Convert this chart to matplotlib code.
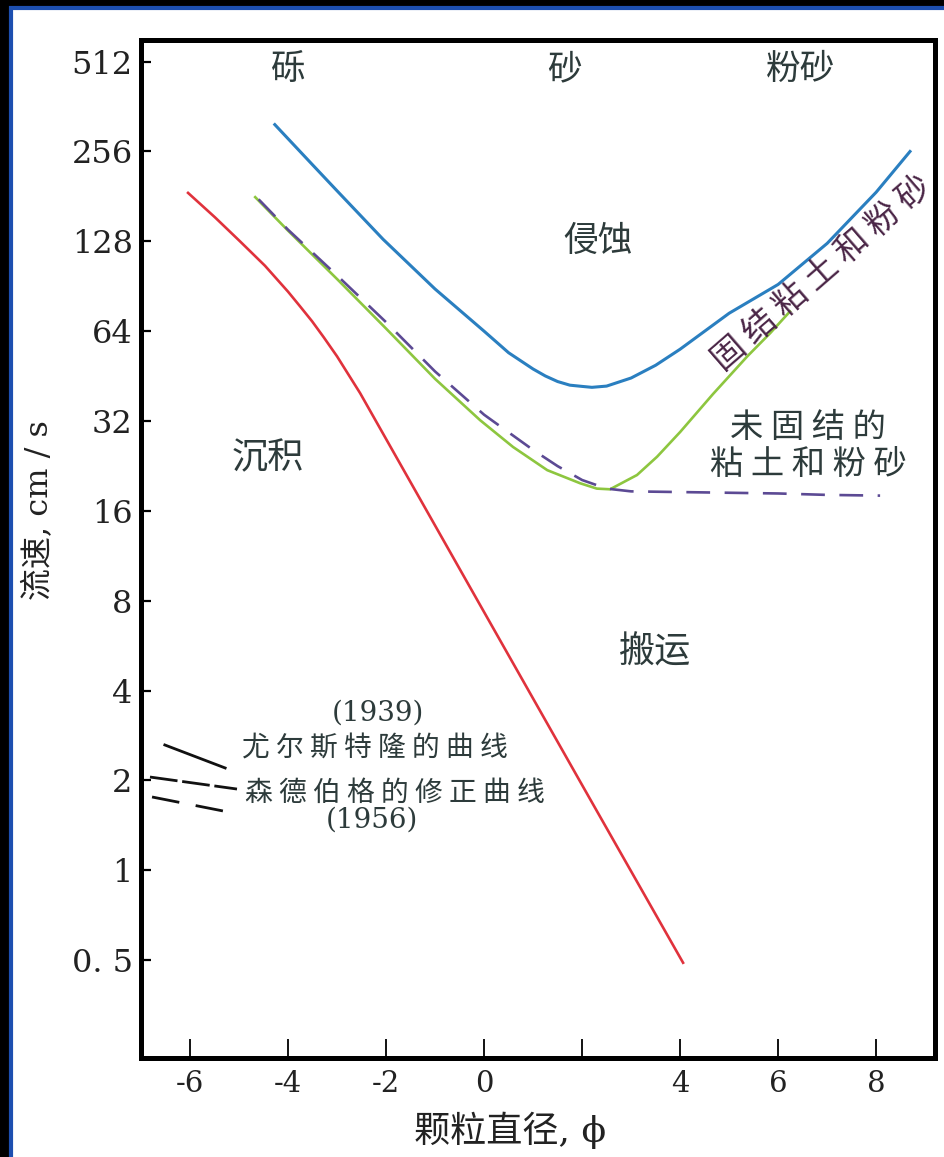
import numpy as np
from matplotlib import pyplot as plt
from matplotlib.patches import Rectangle
from matplotlib.ticker import NullLocator

plt.rcParams['font.family'] = ['Noto Sans CJK SC', 'DejaVu Sans']
SERIF = ['DejaVu Serif', 'Noto Sans CJK SC']

# grain size (phi) and current velocity (cm/s)
# erosion threshold, consolidated clay and silt (blue)
phi_erosion = [-4.27, -3.5, -3.0, -2.06, -1.0, 0.0, 0.5, 1.0, 1.25, 1.5, 1.75, 2.0,
               2.2, 2.5, 3.0, 3.5, 4.0, 5.0, 6.0, 7.0, 8.0, 8.69]
v_erosion = [315, 231, 189, 130, 88.6, 64, 54.2, 47.8, 45.3, 43.4, 42.2, 41.8,
             41.5, 41.9, 44.6, 49.2, 55.7, 73.5, 91.8, 126, 187, 256]

# deposition threshold (red)
phi_deposit = [-6.04, -5.49, -4.98, -4.47, -4.0, -3.76, -3.51, -3.27, -3.0, -2.76,
               -2.53, 0.0, 2.0, 4.06]
v_deposit = [186, 154, 128, 106, 86.8, 77.7, 69.1, 61.0, 52.7, 45.6,
             39.7, 7.33, 1.93, 0.49]

# Hjulstrom curve, unconsolidated clay and silt (green)
phi_hjul = [-4.67, -4.0, -3.0, -2.0, -1.0, -0.08, 0.59, 1.29, 1.96, 2.3, 2.57,
            3.12, 3.53, 4.0, 4.67, 5.37, 5.84, 6.24]
v_hjul = [180, 139, 95.7, 65.3, 44.3, 32.2, 26.2, 21.9, 19.8, 19.0, 18.9,
          21.1, 24.3, 29.4, 39.4, 52.7, 63.1, 74.5]

# Sundborg's corrected curve (dashed)
phi_sund = [-4.6, -4.0, -3.0, -2.0, -1.0, 0.0, 1.0, 1.5, 2.0, 2.5, 3.0, 4.0,
            5.0, 6.0, 7.0, 8.08]
v_sund = [177, 140, 98.4, 68.6, 46.9, 33.6, 25.6, 22.6, 20.3, 19.0, 18.6, 18.5,
          18.4, 18.3, 18.1, 18.0]

xtick_pos = [-6, -4, -2, 0, 2, 4, 6, 8]
xtick_lab = ['-6', '-4', '-2', '0', '', '4', '6', '8']
ytick_pos = [0.5, 1, 2, 4, 8, 16, 32, 64, 128, 256, 512]
ytick_lab = ['0. 5', '1', '2', '4', '8', '16', '32', '64', '128', '256', '512']

fig = plt.figure(figsize=(9.44, 11.57), dpi=100)
fig.patch.set_facecolor('black')
# white sheet with a blue rim
sheet = Rectangle((11/944, -0.02), 1.1, 1 - 8/1157 + 0.02, transform=fig.transFigure,
                  facecolor='white', edgecolor='#1d4fb0', linewidth=3, zorder=-1)
fig.patches.append(sheet)

ax = fig.add_axes([141/944, 1 - 1058/1157, 794/944, 1018/1157])
ax.set_yscale('log', base=2)
ax.set_xlim(-7.0, 9.2)
ax.set_ylim(0.235, 605)

ax.plot(phi_erosion, v_erosion, color='#2a7fc0', lw=2.2)
ax.plot(phi_deposit, v_deposit, color='#e0323c', lw=1.9)
ax.plot(phi_hjul, v_hjul, color='#8dc63f', lw=1.9)
ax.plot(phi_sund, v_sund, color='#5c4a94', lw=1.9, dashes=(9, 5.5))

for sp in ax.spines.values():
    sp.set_linewidth(3.6)
ax.set_xticks(xtick_pos)
ax.set_xticklabels(xtick_lab, fontfamily=SERIF, fontsize=21, color='#222222')
ax.set_yticks(ytick_pos)
ax.set_yticklabels(ytick_lab, fontfamily=SERIF, fontsize=23, color='#222222')
ax.yaxis.set_minor_locator(NullLocator())
ax.tick_params(axis='x', direction='in', length=14, width=1.3, pad=9)
ax.tick_params(axis='y', direction='in', length=7, width=1.6, pad=6)

ax.set_ylabel('流速, cm / s', fontsize=23, fontfamily=SERIF, color='#222222', va='center')
ax.yaxis.set_label_coords(-0.128, 0.538)
ax.set_xlabel('颗粒直径, ϕ', fontsize=26, fontfamily=SERIF, color='#222222', va='center')
ax.xaxis.set_label_coords(0.465, -0.0707)

txt = dict(ha='center', va='center', color='#2d3b3b')
ax.text(-4.0, 481, '砾', fontsize=25, **txt)
ax.text(1.65, 481, '砂', fontsize=25, **txt)
ax.text(6.45, 481, '粉砂', fontsize=25, **txt)
ax.text(2.33, 128, '侵蚀', fontsize=25, **txt)
ax.text(-4.41, 24, '沉积', fontsize=26, **txt)
ax.text(3.49, 5.35, '搬运', fontsize=26, **txt)
ax.text(6.61, 26.4, '未 固 结 的\n粘 土 和 粉 砂', fontsize=24, linespacing=1.1, **txt)
ax.text(6.9, 100, '固 结 粘 土 和 粉 砂', fontsize=24, rotation=41,
        rotation_mode='anchor', ha='center', va='center', color='#4a2546')

# key for the two reference curves
ax.plot([0.030, 0.106], [0.3075, 0.2849], transform=ax.transAxes, color='#111111', lw=2.0)
ax.plot([0.0113, 0.1209], [0.2760, 0.2642], transform=ax.transAxes, color='#111111',
        lw=2.0, dashes=(10, 1.7))
ax.plot([0.0139, 0.1096], [0.2564, 0.2417], transform=ax.transAxes, color='#111111',
        lw=2.0, dashes=(10, 6))
ax.text(-2.16, 3.36, '(1939)', fontsize=20, fontfamily=SERIF, **txt)
ax.text(-2.22, 2.55, '尤 尔 斯 特 隆 的 曲 线', fontsize=20, **txt)
ax.text(-1.82, 1.82, '森 德 伯 格 的 修 正 曲 线', fontsize=20, **txt)
ax.text(-2.29, 1.47, '(1956)', fontsize=20, fontfamily=SERIF, **txt)

plt.savefig('out.png', dpi=100, facecolor=fig.get_facecolor())
